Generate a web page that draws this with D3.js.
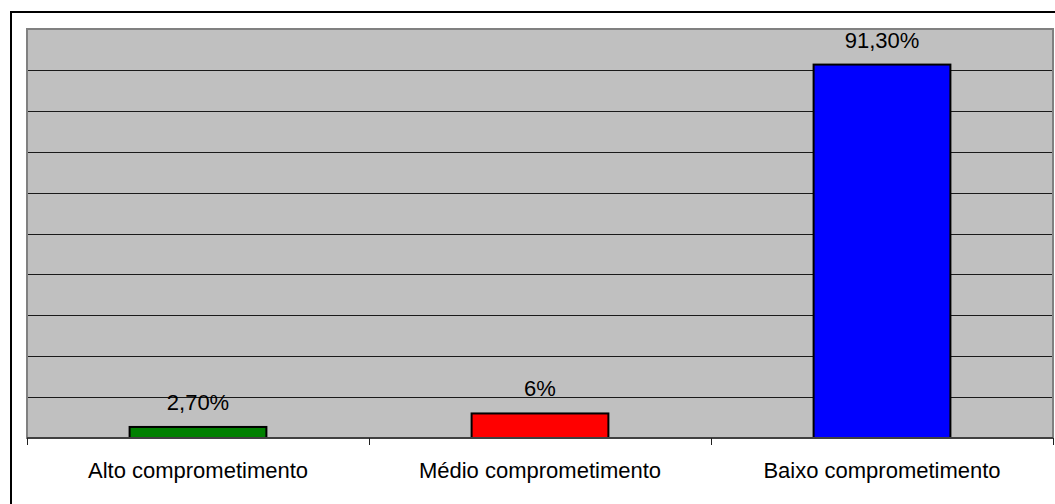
<!DOCTYPE html>
<html>
<head>
<meta charset="utf-8">
<script src="https://cdn.jsdelivr.net/npm/d3@7"></script>
<style>
  html, body { margin: 0; padding: 0; background: #fff; }
  svg { display: block; }
  text { font-family: "Liberation Sans", Arial, sans-serif; fill: #000; }
</style>
</head>
<body>
<svg id="chart" width="1055" height="504"></svg>
<script>
// Data
const categories = ["Alto comprometimento", "Médio comprometimento", "Baixo comprometimento"];
const values = [2.7, 6, 91.3];
const valueLabels = ["2,70%", "6%", "91,30%"];
const barColors = ["#008000", "#ff0000", "#0000ff"];
const yTicks = [0, 10, 20, 30, 40, 50, 60, 70, 80, 90, 100];

const svg = d3.select("#chart");
const W = 1055, H = 504;

// Frame around the whole chart
svg.append("rect")
  .attr("x", 11).attr("y", 12)
  .attr("width", W + 20).attr("height", H + 20)
  .attr("fill", "none").attr("stroke", "#000").attr("stroke-width", 2);

const plot = { left: 27, right: 1053, top: 29, bottom: 438 };

const x = d3.scaleBand()
  .domain(categories)
  .range([plot.left, plot.right])
  .paddingInner(0.6)
  .paddingOuter(0.3);

const y = d3.scaleLinear()
  .domain([0, 100])
  .range([plot.bottom, plot.top]);

// Plot background
svg.append("rect")
  .attr("x", plot.left).attr("y", plot.top)
  .attr("width", plot.right - plot.left).attr("height", plot.bottom - plot.top)
  .attr("fill", "#c0c0c0");

// Horizontal gridlines
svg.append("g")
  .selectAll("line")
  .data(yTicks.filter(d => d > 0 && d < 100))
  .join("line")
  .attr("x1", plot.left).attr("x2", plot.right)
  .attr("y1", d => Math.round(y(d)) + 0.5).attr("y2", d => Math.round(y(d)) + 0.5)
  .attr("stroke", "#1a1a1a").attr("stroke-width", 1);

// Plot border
svg.append("rect")
  .attr("x", plot.left).attr("y", plot.top)
  .attr("width", plot.right - plot.left).attr("height", plot.bottom - plot.top)
  .attr("fill", "none").attr("stroke", "#808080").attr("stroke-width", 2);

// Bars
svg.append("g")
  .selectAll("rect")
  .data(values)
  .join("rect")
  .attr("x", (d, i) => x(categories[i]))
  .attr("y", d => y(d))
  .attr("width", x.bandwidth())
  .attr("height", d => y(0) - y(d))
  .attr("fill", (d, i) => barColors[i])
  .attr("stroke", "#000").attr("stroke-width", 2);

// Value labels
svg.append("g")
  .selectAll("text")
  .data(values)
  .join("text")
  .attr("x", (d, i) => x(categories[i]) + x.bandwidth() / 2)
  .attr("y", d => y(d) - 17)
  .attr("text-anchor", "middle")
  .attr("font-size", 22)
  .text((d, i) => valueLabels[i]);

// Category axis
const xCat = d3.scalePoint().domain(d3.range(categories.length + 1)).range([plot.left, plot.right]);
svg.append("line")
  .attr("x1", plot.left).attr("x2", plot.right)
  .attr("y1", plot.bottom).attr("y2", plot.bottom)
  .attr("stroke", "#404040").attr("stroke-width", 2);
svg.append("g")
  .selectAll("line")
  .data(xCat.domain())
  .join("line")
  .attr("x1", d => Math.round(xCat(d)) + 0.5).attr("x2", d => Math.round(xCat(d)) + 0.5)
  .attr("y1", plot.bottom).attr("y2", plot.bottom + 7)
  .attr("stroke", "#202020").attr("stroke-width", 1);

svg.append("g")
  .selectAll("text")
  .data(categories)
  .join("text")
  .attr("x", d => x(d) + x.bandwidth() / 2)
  .attr("y", 478)
  .attr("text-anchor", "middle")
  .attr("font-size", 22)
  .text(d => d);
</script>
</body>
</html>
